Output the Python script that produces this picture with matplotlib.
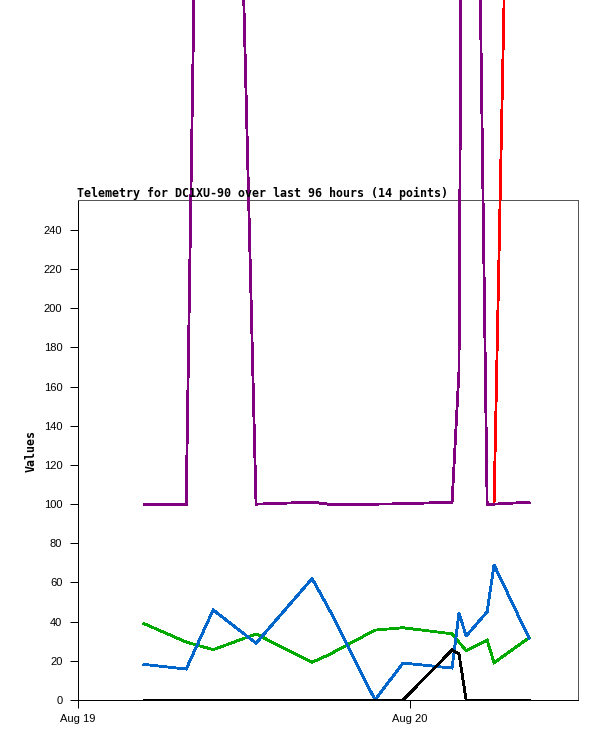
import matplotlib
matplotlib.use("Agg")
import matplotlib.pyplot as plt
import matplotlib.dates as mdates
import pandas as pd
import numpy as np

# ---- data ----
times = ["2024-08-19 04:46", "2024-08-19 07:49", "2024-08-19 09:46", "2024-08-19 12:52",
         "2024-08-19 16:55", "2024-08-19 18:06", "2024-08-19 21:28", "2024-08-19 23:29",
         "2024-08-20 03:02", "2024-08-20 03:32", "2024-08-20 04:03", "2024-08-20 05:34",
         "2024-08-20 06:04", "2024-08-20 08:36"]
purple_vals = [100, 100, 1000, 100, 101, 100, 100, 100.2, 101, 168, 900, 100, 100, 101]
red_vals = [np.nan] * 12 + [100, 1000]
green_vals = [39, 29.6, 25.7, 33.7, 19.3, 23, 35.7, 36.9, 33.8, 29.5, 25.2, 30.6, 19, 31.8]
blue_vals = [18.2, 15.8, 46, 29, 62, 47, 0, 18.9, 16.3, 44.4, 32.7, 45, 69, 31.5]
black_vals = [0, 0, 0, 0, 0, 0, 0, 0, 25.5, 23.5, 0, 0, 0, 0]
yticks = list(range(0, 241, 20))
title = "Telemetry for DC1XU-90 over last 96 hours (14 points)"
ylabel = "Values"
x_start = "2024-08-19 00:00"
x_end = "2024-08-20 12:08"

t = pd.to_datetime(times)

W, H = 597, 741
fig = plt.figure(figsize=(W / 100, H / 100), dpi=100)
ax = fig.add_axes([78 / W, (H - 700) / H, 500 / W, 500 / H])

lw = 1.3
series = [
    (red_vals, "#ff0000"),
    (purple_vals, "#800080"),
    (green_vals, "#00aa00"),
    (blue_vals, "#0066cc"),
    (black_vals, "#000000"),
]
for vals, col in series:
    ax.plot(t, vals, color=col, lw=lw, clip_on=False, zorder=4,
            antialiased=False, solid_joinstyle="miter")

ax.set_xlim(pd.Timestamp(x_start), pd.Timestamp(x_end))
ax.set_ylim(0, 255.3)
ax.set_yticks(yticks)
ax.xaxis.set_major_locator(mdates.DayLocator())
ax.xaxis.set_major_formatter(mdates.DateFormatter("%b %d"))

for lab in ax.get_xticklabels() + ax.get_yticklabels():
    lab.set_fontfamily("Liberation Sans")
    lab.set_fontsize(8)
ax.tick_params(axis="y", direction="out", length=5.76, width=0.72, pad=5.5, colors="black")
ax.tick_params(axis="x", direction="out", length=5.76, width=0.72, pad=4.0, colors="black")

for s in ["left", "bottom"]:
    ax.spines[s].set_color("black")
    ax.spines[s].set_linewidth(0.72)
for s in ["top", "right"]:
    ax.spines[s].set_color("#555555")
    ax.spines[s].set_linewidth(0.72)

fig.text(77 / W, (H - 197) / H, title, ha="left", va="baseline",
         family="DejaVu Sans Mono", weight="bold", fontsize=8.35, zorder=1)
fig.text(31 / W, (H - 451) / H, ylabel, ha="center", va="center", rotation=90,
         family="DejaVu Sans Mono", weight="bold", fontsize=8.35)

fig.savefig("out.png", dpi=100)
